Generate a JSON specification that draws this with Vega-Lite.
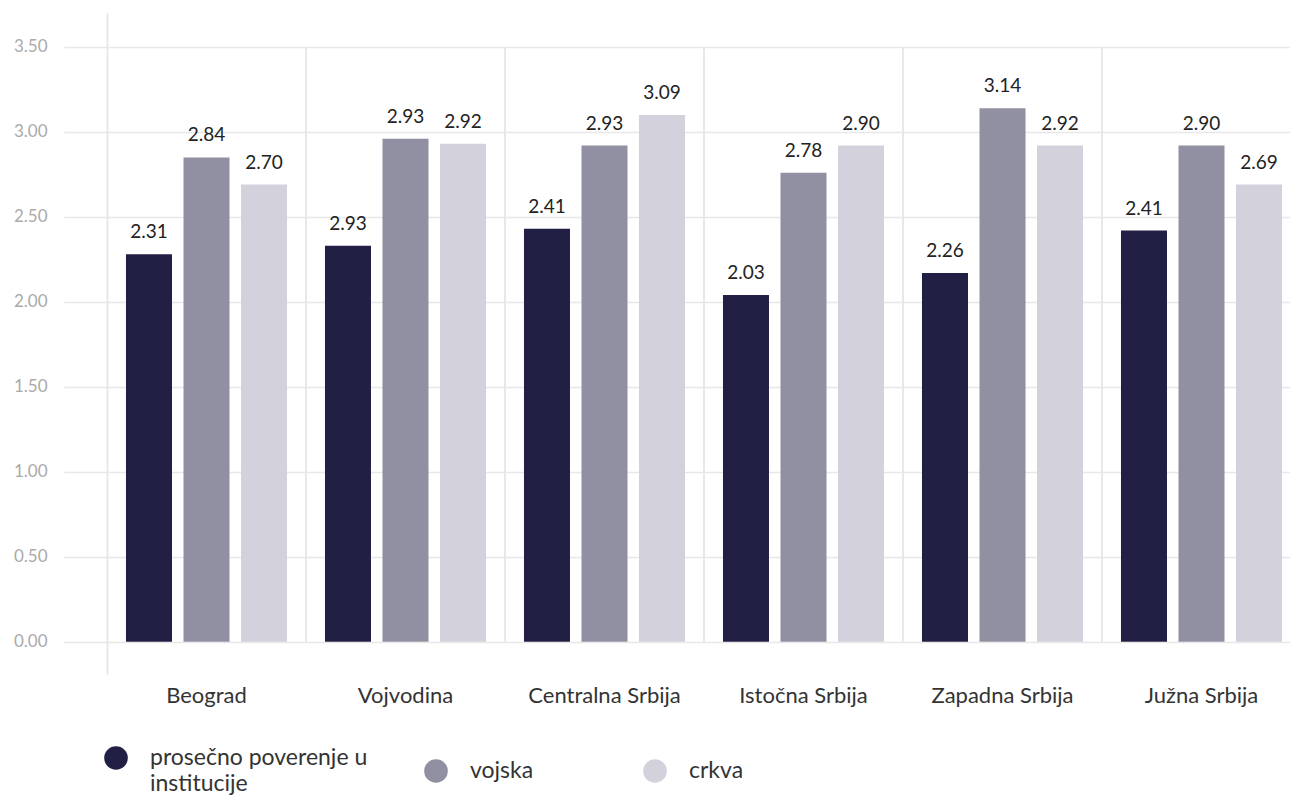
{
  "$schema": "https://vega.github.io/schema/vega-lite/v6.json",
  "width": 1183,
  "height": 661,
  "autosize": {"type": "none"},
  "padding": {"left": 107, "top": 13, "right": 0, "bottom": 123},
  "background": "white",
  "config": {
    "view": {"stroke": null},
    "font": "Lato",
    "style": {"guide-label": {"lineHeight": 26}}
  },
  "data": {
    "values": [
      {"region": "Beograd", "series": "prosečno poverenje u institucije", "value": 2.28, "label": "2.31"},
      {"region": "Beograd", "series": "vojska", "value": 2.85, "label": "2.84"},
      {"region": "Beograd", "series": "crkva", "value": 2.69, "label": "2.70"},
      {"region": "Vojvodina", "series": "prosečno poverenje u institucije", "value": 2.33, "label": "2.93"},
      {"region": "Vojvodina", "series": "vojska", "value": 2.96, "label": "2.93"},
      {"region": "Vojvodina", "series": "crkva", "value": 2.93, "label": "2.92"},
      {"region": "Centralna Srbija", "series": "prosečno poverenje u institucije", "value": 2.43, "label": "2.41"},
      {"region": "Centralna Srbija", "series": "vojska", "value": 2.92, "label": "2.93"},
      {"region": "Centralna Srbija", "series": "crkva", "value": 3.10, "label": "3.09"},
      {"region": "Istočna Srbija", "series": "prosečno poverenje u institucije", "value": 2.04, "label": "2.03"},
      {"region": "Istočna Srbija", "series": "vojska", "value": 2.76, "label": "2.78"},
      {"region": "Istočna Srbija", "series": "crkva", "value": 2.92, "label": "2.90"},
      {"region": "Zapadna Srbija", "series": "prosečno poverenje u institucije", "value": 2.17, "label": "2.26"},
      {"region": "Zapadna Srbija", "series": "vojska", "value": 3.14, "label": "3.14"},
      {"region": "Zapadna Srbija", "series": "crkva", "value": 2.92, "label": "2.92"},
      {"region": "Južna Srbija", "series": "prosečno poverenje u institucije", "value": 2.42, "label": "2.41"},
      {"region": "Južna Srbija", "series": "vojska", "value": 2.92, "label": "2.90"},
      {"region": "Južna Srbija", "series": "crkva", "value": 2.69, "label": "2.69"}
    ]
  },
  "encoding": {
    "x": {
      "field": "region",
      "type": "nominal",
      "sort": ["Beograd", "Vojvodina", "Centralna Srbija", "Istočna Srbija", "Zapadna Srbija", "Južna Srbija"],
      "scale": {"range": [0, 1194], "paddingInner": 0, "paddingOuter": 0},
      "axis": {
        "title": null,
        "labelAngle": 0,
        "domain": false,
        "ticks": false,
        "grid": false,
        "labelPadding": 11,
        "labelFontSize": 22,
        "labelColor": "#333333",
        "labelFont": "Lato"
      }
    },
    "y": {
      "field": "value",
      "type": "quantitative",
      "scale": {"domain": [-0.19, 3.7], "nice": false, "zero": false},
      "axis": {
        "title": null,
        "values": [0, 0.5, 1, 1.5, 2, 2.5, 3, 3.5],
        "format": ".2f",
        "domain": true,
        "domainColor": "#e8e8e8",
        "domainWidth": 2,
        "ticks": true,
        "tickSize": 43,
        "tickColor": "#e8e8e8",
        "tickWidth": 1.5,
        "grid": true,
        "gridColor": "#e8e8e8",
        "gridWidth": 1.5,
        "labelPadding": 17,
        "labelFontSize": 17,
        "labelColor": "#aaaaaa",
        "labelFont": "Lato"
      }
    }
  },
  "layer": [
    {
      "transform": [{"filter": "datum.series === 'vojska' && datum.region !== 'Beograd'"}],
      "mark": {"type": "rule", "color": "#e8e8e8", "strokeWidth": 2},
      "encoding": {
        "x": {"field": "region", "type": "nominal", "bandPosition": 0,
              "sort": ["Beograd", "Vojvodina", "Centralna Srbija", "Istočna Srbija", "Zapadna Srbija", "Južna Srbija"]},
        "y": {"datum": 0},
        "y2": {"datum": 3.5}
      }
    },
    {
      "mark": {"type": "bar"},
      "encoding": {
        "xOffset": {
          "field": "series",
          "type": "nominal",
          "sort": ["prosečno poverenje u institucije", "vojska", "crkva"],
          "scale": {"paddingInner": 0.2, "paddingOuter": 0.33}
        },
        "y2": {"datum": 0},
        "color": {
          "field": "series",
          "type": "nominal",
          "sort": ["prosečno poverenje u institucije", "vojska", "crkva"],
          "scale": {
            "domain": ["prosečno poverenje u institucije", "vojska", "crkva"],
            "range": ["#221f44", "#9190a2", "#d3d2dc"]
          },
          "legend": {
            "title": null,
            "orient": "none",
            "direction": "horizontal",
            "legendX": -3,
            "legendY": 733,
            "symbolType": "circle",
            "symbolSize": 560,
            "symbolStrokeWidth": 0,
            "symbolOpacity": 1,
            "labelOffset": 22,
            "labelFontSize": 23,
            "labelColor": "#333333",
            "labelFont": "Lato",
            "labelLimit": 400,
            "columnPadding": 56,
            "labelExpr": "datum.label === 'prosečno poverenje u institucije' ? ['prosečno poverenje u', 'institucije'] : (datum.label === 'vojska' ? 'vojska         \u200b' : datum.label)"
          }
        }
      }
    },
    {
      "mark": {"type": "text", "dy": -22, "baseline": "middle", "align": "center", "fontSize": 19, "color": "#222222", "font": "Lato"},
      "encoding": {
        "xOffset": {
          "field": "series",
          "type": "nominal",
          "sort": ["prosečno poverenje u institucije", "vojska", "crkva"]
        },
        "text": {"field": "label"}
      }
    }
  ]
}
